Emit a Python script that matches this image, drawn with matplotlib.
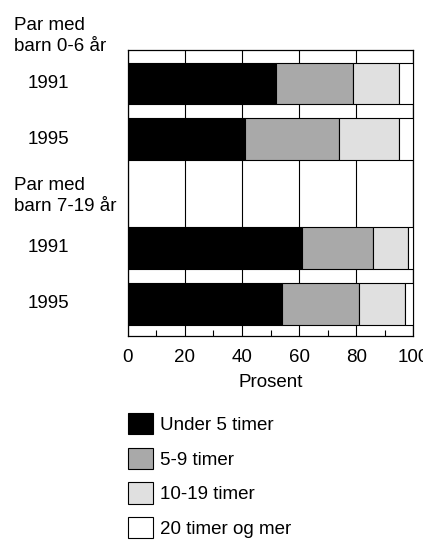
import matplotlib
matplotlib.use("Agg")
import matplotlib.pyplot as plt
from matplotlib.patches import Patch
from matplotlib.ticker import MultipleLocator

plt.rcParams["font.family"] = ["Liberation Sans Narrow", "Liberation Sans", "DejaVu Sans"]

# Data (percent)
groups = ["Par med\nbarn 0-6 år", "Par med\nbarn 7-19 år"]
years = ["1991", "1995", "1991", "1995"]
under5 = [52, 41, 61, 54]
t5_9 = [27, 33, 25, 27]
t10_19 = [16, 21, 12, 16]
t20plus = [5, 5, 2, 3]
series_labels = ["Under 5 timer", "5-9 timer", "10-19 timer", "20 timer og mer"]
colors = ["black", "#a9a9a9", "#e0e0e0", "white"]

ypos = [0, 1, 2.95, 3.95]
FS = 13.5

fig = plt.figure(figsize=(4.23, 5.40), dpi=100)
W, H = 423, 540
ax = fig.add_axes([127.7 / W, 1 - 336 / H, (413.3 - 127.7) / W, (336 - 50) / H])

left = [0, 0, 0, 0]
for vals, col in zip([under5, t5_9, t10_19, t20plus], colors):
    ax.barh(ypos, vals, left=left, height=0.75, color=col,
            edgecolor="black", linewidth=0.8, zorder=3)
    left = [l + v for l, v in zip(left, vals)]

ax.set_xlim(0, 100)
ax.set_ylim(4.53, -0.6)
ax.set_yticks([])
ax.xaxis.set_major_locator(MultipleLocator(20))
ax.xaxis.set_minor_locator(MultipleLocator(10))
ax.tick_params(axis="x", which="both", direction="in", top=False, labelsize=FS, pad=9)
ax.tick_params(axis="x", which="major", length=0)
ax.tick_params(axis="x", which="minor", length=4, width=0.8)
ax.xaxis.grid(True, which="major", color="black", linewidth=0.8, zorder=0)
for s in ax.spines.values():
    s.set_linewidth(0.9)
ax.set_xlabel("Prosent", fontsize=FS, labelpad=6)

# Left labels
fig.text(14 / W, 1 - 36 / H, groups[0], fontsize=FS, va="center", ha="left", linespacing=1.3)
fig.text(14 / W, 1 - 196 / H, groups[1], fontsize=FS, va="center", ha="left", linespacing=1.3)
for y, lab in zip(ypos, years):
    ax.text(-0.35, y, lab, transform=ax.get_yaxis_transform(), fontsize=FS,
            va="center", ha="left")

handles = [Patch(facecolor=c, edgecolor="black", linewidth=0.8) for c in colors]
fig.legend(handles, series_labels, loc="upper left", frameon=False,
           bbox_to_anchor=(119 / W, 1 - 404 / H), fontsize=FS,
           handlelength=1.3, handleheight=1.35, labelspacing=0.72,
           handletextpad=0.4, borderpad=0)

fig.savefig("out.png", dpi=100)
